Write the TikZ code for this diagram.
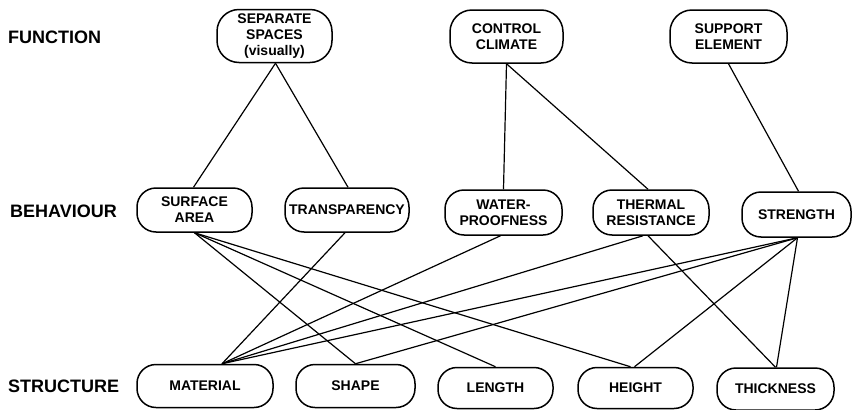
\documentclass[tikz,border=0pt]{standalone}
\usepackage{fontspec}
\setmainfont{Liberation Sans}
\tikzset{
  box/.style={draw, line width=1.5pt, rounded corners=19pt, align=center,
    font=\fontsize{14}{16}\selectfont\bfseries, inner sep=0pt},
  rowlabel/.style={font=\fontsize{18}{20}\selectfont\bfseries, anchor=base west, inner sep=0pt},
  link/.style={line width=1.2pt}
}
\begin{document}
\begin{tikzpicture}[x=1pt,y=-1pt]
\useasboundingbox (0,0) rectangle (855,410);
% row labels
\node[rowlabel] (lf) at (8,43) {FUNCTION};
\node[rowlabel] (lb) at (10,217) {BEHAVIOUR};
\node[rowlabel] (ls) at (8,392) {STRUCTURE};
% function
\node[box, rounded corners=22pt, minimum width=115pt, minimum height=53pt] (sep) at (274.5,36) {SEPARATE\\SPACES\\(visually)};
\node[box, rounded corners=22pt, minimum width=113pt, minimum height=53pt] (ctrl) at (506.5,36.5) {CONTROL\\CLIMATE};
\node[box, rounded corners=22pt, minimum width=117pt, minimum height=53pt] (supp) at (728.5,36.5) {SUPPORT\\ELEMENT};
% behaviour
\node[box, minimum width=115pt, minimum height=44pt] (surf) at (194.5,210) {SURFACE\\AREA};
\node[box, minimum width=124pt, minimum height=44pt] (trans) at (347,210) {TRANSPARENCY};
\node[box, minimum width=117pt, minimum height=45pt] (water) at (503.5,212.5) {WATER-\\PROOFNESS};
\node[box, minimum width=116pt, minimum height=45pt] (therm) at (651,212.5) {THERMAL\\RESISTANCE};
\node[box, minimum width=109pt, minimum height=45pt] (str) at (796.5,214.5) {STRENGTH};
% structure
\node[box, minimum width=136pt, minimum height=43pt] (mat) at (205,386) {MATERIAL};
\node[box, minimum width=119pt, minimum height=43pt] (shp) at (355.5,386) {SHAPE};
\node[box, minimum width=115pt, minimum height=41pt] (len) at (495.5,388) {LENGTH};
\node[box, minimum width=115pt, minimum height=41pt] (hgt) at (635.5,388) {HEIGHT};
\node[box, minimum width=117pt, minimum height=42pt] (thk) at (775.5,389) {THICKNESS};
% links function-behaviour
\draw[link] ([xshift=1pt]sep.south) -- ([xshift=-1pt]surf.north);
\draw[link] ([xshift=1pt]sep.south) -- ([xshift=1pt]trans.north);
\draw[link] (ctrl.south) -- (water.north);
\draw[link] (ctrl.south) -- ([xshift=-3pt]therm.north);
\draw[link] (supp.south) -- ([xshift=2pt]str.north);
% links behaviour-structure
\draw[link] (surf.south) -- (shp.north);
\draw[link] (surf.south) -- (len.north);
\draw[link] (surf.south) -- ([xshift=-5pt]hgt.north);
\draw[link] ([xshift=-2pt]trans.south) -- ([xshift=17pt]mat.north);
\draw[link] ([xshift=-3pt]water.south) -- ([xshift=17pt]mat.north);
\draw[link] ([xshift=-8pt]therm.south) -- ([xshift=17pt]mat.north);
\draw[link] ([xshift=-3pt]therm.south) -- (thk.north);
\draw[link] ([xshift=1pt]str.south) -- ([xshift=17pt]mat.north);
\draw[link] ([xshift=1pt]str.south) -- (shp.north);
\draw[link] ([xshift=1pt]str.south) -- ([xshift=-1pt]hgt.north);
\draw[link] ([xshift=1pt]str.south) -- ([xshift=1pt]thk.north);
\end{tikzpicture}
\end{document}
